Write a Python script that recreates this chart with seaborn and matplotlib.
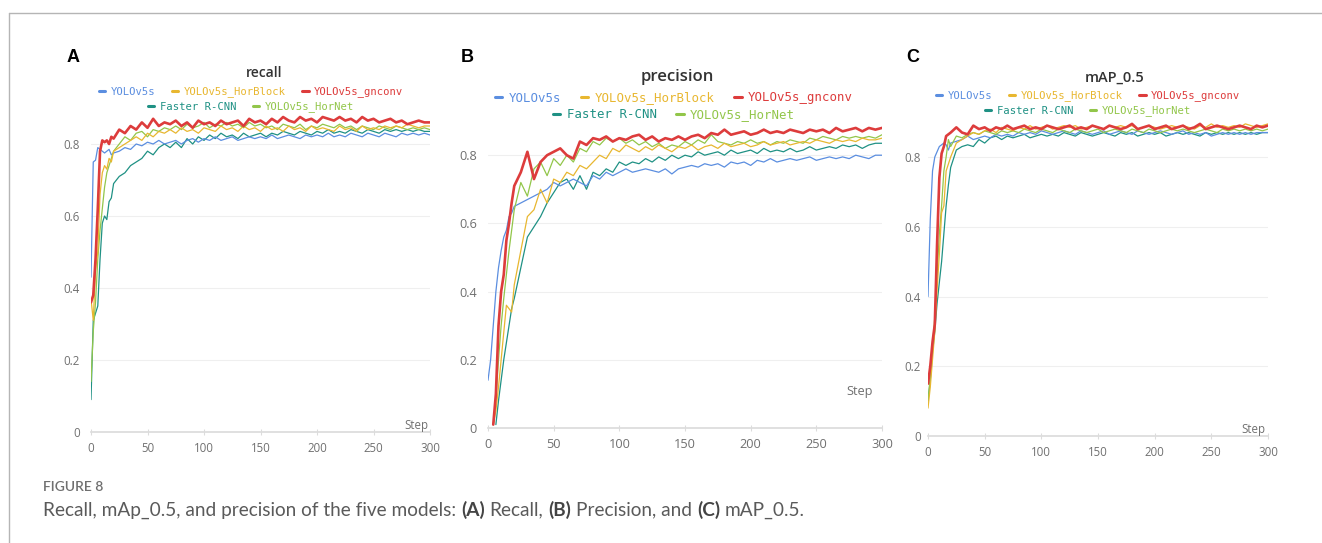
import numpy as np
import pandas as pd
import matplotlib
matplotlib.use('Agg')
import matplotlib.pyplot as plt
import seaborn as sns
from matplotlib.lines import Line2D
from matplotlib.ticker import FuncFormatter

sns.set_theme(style='white')
plt.rcParams['font.family'] = ['Open Sans', 'DejaVu Sans']

# training steps (x values), denser at the start
steps = [0, 2, 4, 6, 8, 10, 12, 14, 16, 18, 20] + list(range(25, 301, 5))

models = ['YOLOv5s', 'YOLOv5s_HorBlock', 'YOLOv5s_gnconv', 'Faster R-CNN', 'YOLOv5s_HorNet']
colors = {'YOLOv5s': '#5b8ee0', 'YOLOv5s_HorBlock': '#e8b730', 'YOLOv5s_gnconv': '#dd3c3c',
          'Faster R-CNN': '#1f9184', 'YOLOv5s_HorNet': '#92c64a'}
nan = np.nan

# ---- (A) recall
recall_yolov5s = [0.43, 0.75, 0.755, 0.79, 0.785, 0.78, 0.775, 0.78, 0.785, 0.77, 0.775,
                  0.78, 0.79, 0.785, 0.80, 0.795, 0.805, 0.80, 0.81, 0.80, 0.805,
                  0.81, 0.80, 0.81, 0.815, 0.805, 0.815, 0.81, 0.82, 0.81, 0.815,
                  0.82, 0.81, 0.815, 0.82, 0.815, 0.82, 0.815, 0.825, 0.815, 0.82,
                  0.825, 0.82, 0.815, 0.825, 0.82, 0.825, 0.82, 0.83, 0.82, 0.825,
                  0.82, 0.83, 0.825, 0.82, 0.83, 0.825, 0.82, 0.83, 0.825, 0.82,
                  0.83, 0.825, 0.83, 0.825, 0.83, 0.825]
recall_horblock = [0.37, 0.31, 0.45, 0.50, 0.66, 0.72, 0.74, 0.73, 0.76, 0.75, 0.78,
                   0.79, 0.80, 0.81, 0.82, 0.81, 0.83, 0.82, 0.835, 0.83, 0.84,
                   0.83, 0.845, 0.835, 0.84, 0.83, 0.845, 0.84, 0.835, 0.85, 0.84,
                   0.845, 0.835, 0.85, 0.84, 0.845, 0.835, 0.85, 0.84, 0.845, 0.835,
                   0.85, 0.84, 0.845, 0.835, 0.85, 0.84, 0.845, 0.84, 0.835, 0.85,
                   0.84, 0.845, 0.835, 0.85, 0.84, 0.845, 0.84, 0.85, 0.845, 0.85,
                   0.845, 0.855, 0.85, 0.845, 0.85, 0.85]
recall_gnconv = [0.36, 0.38, 0.48, 0.62, 0.78, 0.81, 0.805, 0.81, 0.80, 0.82, 0.815,
                 0.84, 0.83, 0.85, 0.84, 0.86, 0.845, 0.87, 0.85, 0.86, 0.855,
                 0.865, 0.85, 0.86, 0.845, 0.865, 0.855, 0.86, 0.85, 0.865, 0.855,
                 0.86, 0.865, 0.85, 0.87, 0.86, 0.865, 0.855, 0.87, 0.86, 0.875,
                 0.865, 0.86, 0.875, 0.865, 0.87, 0.86, 0.875, 0.87, 0.865, 0.875,
                 0.865, 0.87, 0.86, 0.875, 0.865, 0.87, 0.86, 0.865, 0.87, 0.86,
                 0.865, 0.855, 0.86, 0.865, 0.86, 0.86]
recall_frcnn = [0.09, 0.31, 0.33, 0.35, 0.48, 0.58, 0.60, 0.59, 0.64, 0.65, 0.69,
                0.71, 0.72, 0.74, 0.75, 0.76, 0.78, 0.77, 0.79, 0.80, 0.79,
                0.805, 0.79, 0.815, 0.80, 0.82, 0.81, 0.825, 0.815, 0.83, 0.82,
                0.825, 0.815, 0.83, 0.82, 0.825, 0.83, 0.82, 0.83, 0.825, 0.835,
                0.83, 0.825, 0.835, 0.83, 0.825, 0.835, 0.83, 0.84, 0.83, 0.835,
                0.83, 0.84, 0.835, 0.83, 0.84, 0.835, 0.83, 0.84, 0.835, 0.84,
                0.835, 0.84, 0.835, 0.84, 0.835, 0.835]
recall_hornet = [0.14, 0.28, 0.36, 0.48, 0.56, 0.62, 0.68, 0.72, 0.74, 0.76, 0.78,
                 0.80, 0.82, 0.81, 0.83, 0.835, 0.82, 0.84, 0.835, 0.845, 0.84,
                 0.85, 0.84, 0.855, 0.845, 0.85, 0.86, 0.845, 0.855, 0.85, 0.86,
                 0.85, 0.855, 0.845, 0.86, 0.85, 0.855, 0.845, 0.85, 0.84, 0.855,
                 0.85, 0.845, 0.855, 0.84, 0.85, 0.845, 0.855, 0.85, 0.845, 0.855,
                 0.845, 0.85, 0.84, 0.85, 0.845, 0.84, 0.85, 0.845, 0.84, 0.85,
                 0.845, 0.84, 0.845, 0.84, 0.845, 0.84]

# ---- (B) precision
precision_yolov5s = [0.14, 0.20, 0.30, 0.40, 0.47, 0.52, 0.56, 0.58, 0.62, 0.63, 0.65,
                     0.66, 0.67, 0.68, 0.69, 0.70, 0.72, 0.71, 0.72, 0.73, 0.72,
                     0.71, 0.74, 0.73, 0.75, 0.74, 0.75, 0.76, 0.75, 0.755, 0.76,
                     0.755, 0.75, 0.76, 0.745, 0.76, 0.765, 0.77, 0.765, 0.775, 0.77,
                     0.775, 0.765, 0.78, 0.775, 0.78, 0.77, 0.785, 0.78, 0.79, 0.78,
                     0.785, 0.79, 0.785, 0.79, 0.795, 0.785, 0.79, 0.795, 0.79, 0.795,
                     0.79, 0.80, 0.795, 0.79, 0.80, 0.80]
precision_horblock = [nan, nan, 0.01, 0.05, 0.12, 0.20, 0.28, 0.36, 0.35, 0.34, 0.42,
                      0.52, 0.62, 0.64, 0.70, 0.66, 0.73, 0.72, 0.75, 0.74, 0.77,
                      0.76, 0.78, 0.80, 0.79, 0.82, 0.81, 0.83, 0.82, 0.81, 0.825,
                      0.815, 0.83, 0.82, 0.81, 0.825, 0.82, 0.83, 0.815, 0.825, 0.83,
                      0.82, 0.835, 0.825, 0.83, 0.835, 0.825, 0.83, 0.84, 0.83, 0.835,
                      0.84, 0.83, 0.835, 0.84, 0.835, 0.845, 0.84, 0.835, 0.845, 0.84,
                      0.845, 0.84, 0.85, 0.845, 0.845, 0.85]
precision_gnconv = [nan, nan, 0.01, 0.10, 0.30, 0.40, 0.45, 0.55, 0.60, 0.66, 0.71,
                    0.75, 0.81, 0.73, 0.78, 0.80, 0.81, 0.82, 0.80, 0.79, 0.84,
                    0.83, 0.85, 0.845, 0.855, 0.84, 0.85, 0.845, 0.855, 0.86, 0.845,
                    0.855, 0.84, 0.85, 0.845, 0.855, 0.845, 0.855, 0.86, 0.85, 0.865,
                    0.86, 0.875, 0.86, 0.865, 0.87, 0.86, 0.865, 0.875, 0.865, 0.87,
                    0.865, 0.875, 0.87, 0.865, 0.875, 0.87, 0.875, 0.865, 0.88, 0.87,
                    0.875, 0.88, 0.87, 0.88, 0.875, 0.88]
precision_frcnn = [nan, nan, nan, 0.01, 0.08, 0.14, 0.20, 0.25, 0.30, 0.35, 0.38,
                   0.47, 0.56, 0.59, 0.62, 0.66, 0.69, 0.72, 0.73, 0.70, 0.74,
                   0.70, 0.75, 0.74, 0.76, 0.75, 0.78, 0.77, 0.78, 0.775, 0.79,
                   0.78, 0.795, 0.785, 0.80, 0.79, 0.80, 0.795, 0.81, 0.80, 0.805,
                   0.81, 0.80, 0.815, 0.805, 0.81, 0.815, 0.805, 0.82, 0.81, 0.815,
                   0.81, 0.82, 0.81, 0.815, 0.825, 0.815, 0.82, 0.825, 0.82, 0.83,
                   0.825, 0.83, 0.82, 0.83, 0.835, 0.835]
precision_hornet = [nan, nan, 0.01, 0.08, 0.20, 0.30, 0.38, 0.45, 0.52, 0.58, 0.64,
                    0.72, 0.68, 0.76, 0.78, 0.74, 0.79, 0.77, 0.80, 0.78, 0.82,
                    0.81, 0.84, 0.83, 0.85, 0.84, 0.85, 0.835, 0.845, 0.83, 0.84,
                    0.825, 0.835, 0.82, 0.83, 0.825, 0.84, 0.83, 0.845, 0.835, 0.86,
                    0.84, 0.835, 0.83, 0.84, 0.835, 0.845, 0.835, 0.84, 0.83, 0.84,
                    0.835, 0.845, 0.84, 0.835, 0.85, 0.845, 0.855, 0.85, 0.845, 0.855,
                    0.85, 0.855, 0.85, 0.855, 0.85, 0.86]

# ---- (C) mAP_0.5
map_yolov5s = [0.40, 0.62, 0.76, 0.80, 0.815, 0.83, 0.835, 0.84, 0.835, 0.82, 0.84,
               0.845, 0.85, 0.86, 0.85, 0.855, 0.86, 0.855, 0.865, 0.86, 0.865,
               0.86, 0.87, 0.865, 0.87, 0.865, 0.875, 0.87, 0.865, 0.87, 0.875,
               0.87, 0.865, 0.875, 0.87, 0.865, 0.87, 0.875, 0.865, 0.87, 0.875,
               0.87, 0.865, 0.875, 0.87, 0.865, 0.87, 0.875, 0.87, 0.865, 0.87,
               0.875, 0.865, 0.87, 0.865, 0.87, 0.86, 0.865, 0.87, 0.865, 0.87,
               0.865, 0.87, 0.865, 0.87, 0.87, 0.87]
map_horblock = [0.08, 0.14, 0.22, 0.30, 0.42, 0.52, 0.64, 0.66, 0.76, 0.78, 0.80,
                0.84, 0.85, 0.86, 0.87, 0.865, 0.875, 0.88, 0.87, 0.885, 0.88,
                0.875, 0.885, 0.88, 0.89, 0.88, 0.885, 0.89, 0.88, 0.885, 0.89,
                0.885, 0.89, 0.88, 0.885, 0.89, 0.885, 0.88, 0.89, 0.885, 0.89,
                0.885, 0.89, 0.88, 0.885, 0.89, 0.885, 0.88, 0.885, 0.89, 0.885,
                0.89, 0.885, 0.88, 0.89, 0.885, 0.895, 0.885, 0.89, 0.885, 0.89,
                0.885, 0.895, 0.89, 0.885, 0.89, 0.895]
map_gnconv = [0.15, 0.20, 0.27, 0.32, 0.55, 0.74, 0.81, 0.83, 0.86, 0.865, 0.87,
              0.885, 0.87, 0.865, 0.89, 0.88, 0.885, 0.875, 0.885, 0.88, 0.89,
              0.88, 0.885, 0.89, 0.88, 0.885, 0.88, 0.89, 0.885, 0.88, 0.885,
              0.89, 0.88, 0.885, 0.88, 0.89, 0.885, 0.88, 0.89, 0.885, 0.88,
              0.885, 0.895, 0.88, 0.885, 0.89, 0.88, 0.885, 0.89, 0.88, 0.885,
              0.89, 0.88, 0.885, 0.895, 0.88, 0.885, 0.89, 0.885, 0.88, 0.885,
              0.89, 0.885, 0.88, 0.89, 0.885, 0.89]
map_frcnn = [0.10, 0.16, 0.24, 0.30, 0.38, 0.44, 0.50, 0.58, 0.66, 0.72, 0.77,
             0.82, 0.83, 0.835, 0.83, 0.85, 0.84, 0.855, 0.86, 0.85, 0.86,
             0.855, 0.86, 0.865, 0.855, 0.86, 0.865, 0.86, 0.865, 0.86, 0.87,
             0.865, 0.86, 0.87, 0.865, 0.86, 0.865, 0.87, 0.865, 0.86, 0.87,
             0.865, 0.87, 0.86, 0.865, 0.87, 0.865, 0.87, 0.86, 0.865, 0.87,
             0.865, 0.87, 0.865, 0.86, 0.87, 0.865, 0.87, 0.865, 0.87, 0.865,
             0.87, 0.865, 0.87, 0.865, 0.87, 0.87]
map_hornet = [0.10, 0.17, 0.26, 0.34, 0.46, 0.58, 0.66, 0.76, 0.80, 0.85, 0.83,
              0.86, 0.855, 0.865, 0.87, 0.865, 0.875, 0.87, 0.865, 0.875, 0.87,
              0.875, 0.87, 0.88, 0.875, 0.87, 0.88, 0.875, 0.87, 0.88, 0.875,
              0.87, 0.88, 0.875, 0.87, 0.875, 0.88, 0.87, 0.875, 0.88, 0.875,
              0.87, 0.88, 0.875, 0.87, 0.88, 0.875, 0.87, 0.875, 0.88, 0.875,
              0.88, 0.875, 0.87, 0.875, 0.88, 0.875, 0.87, 0.88, 0.875, 0.88,
              0.875, 0.88, 0.875, 0.88, 0.875, 0.88]

recall = dict(zip(models, [recall_yolov5s, recall_horblock, recall_gnconv, recall_frcnn, recall_hornet]))
precision = dict(zip(models, [precision_yolov5s, precision_horblock, precision_gnconv, precision_frcnn, precision_hornet]))
map05 = dict(zip(models, [map_yolov5s, map_horblock, map_gnconv, map_frcnn, map_hornet]))

W, H = 1322, 543
fig = plt.figure(figsize=(W / 100, H / 100), dpi=100)

def fx(px):
    return px / W

def fy(py):
    return 1 - py / H

draw_order = ['Faster R-CNN', 'YOLOv5s', 'YOLOv5s_HorNet', 'YOLOv5s_HorBlock', 'YOLOv5s_gnconv']

# left, right, y of zero, px per unit, title..., legend..., step label, panel letter
panels = [
    dict(data=recall, x0=91, x1=430, y0=432, k=360, title='recall', tx=264, ty=73, tsize=10,
         cx=251, rows=(92, 107), lsize=7.6, step=(416, 425), letter='A', lx=73, ly=58, fs=8.3, ypad=8),
    dict(data=precision, x0=488, x1=882, y0=428, k=341, title='precision', tx=677, ty=77, tsize=12,
         cx=674, rows=(98, 115), lsize=8.9, step=(860, 392), letter='B', lx=467, ly=58, fs=9.2, ypad=8),
    dict(data=map05, x0=928, x1=1268, y0=436, k=348.75, title='mAP_0.5', tx=1115, ty=78, tsize=10.5,
         cx=1088, rows=(96, 111), lsize=7.6, step=(1253, 429), letter='C', lx=913, ly=58, fs=8.3, ypad=5),
]

for p in panels:
    top = p['y0'] - 0.9 * p['k']
    ax = fig.add_axes([fx(p['x0']), fy(p['y0']), (p['x1'] - p['x0']) / W, (p['y0'] - top) / H])
    for m in draw_order:
        sns.lineplot(x=steps, y=p['data'][m], ax=ax, color=colors[m],
                     lw=1.9 if m == 'YOLOv5s_gnconv' else 0.9, legend=False)
    ax.set_xlim(0, 300)
    ax.set_ylim(0, 0.9)
    ax.set_xticks(range(0, 301, 50))
    ax.set_yticks([0, 0.2, 0.4, 0.6, 0.8])
    ax.yaxis.set_major_formatter(FuncFormatter(lambda v, _: '0' if v == 0 else f'{v:.1f}'))
    ax.set_xlabel('')
    ax.set_ylabel('')
    for s in ['top', 'right', 'left']:
        ax.spines[s].set_visible(False)
    ax.spines['bottom'].set_color('#dcdcdc')
    ax.grid(axis='y', color='#efefef', lw=0.8)
    ax.set_axisbelow(True)
    ax.tick_params(axis='x', bottom=True, direction='inout', length=5, width=0.8, color='#dcdcdc',
                   labelcolor='#707070', labelsize=p['fs'], pad=5)
    ax.tick_params(axis='y', length=0, labelcolor='#707070', labelsize=p['fs'], pad=p['ypad'])

    fig.text(fx(p['tx']), fy(p['ty']), p['title'], ha='center', va='center',
             fontsize=p['tsize'], fontweight='semibold', color='#333333')
    fig.text(fx(p['step'][0]), fy(p['step'][1]), 'Step', ha='center', va='center',
             fontsize=p['fs'], color='#707070')
    fig.text(fx(p['lx']), fy(p['ly']), p['letter'], ha='center', va='center',
             fontsize=13, fontweight='bold', family='Liberation Sans', color='black')

    for row, ry in zip([models[:3], models[3:]], p['rows']):
        handles = [Line2D([], [], color=colors[m], lw=2.2) for m in row]
        fig.legend(handles, row, loc='center', bbox_to_anchor=(fx(p['cx']), fy(ry)),
                   ncol=len(row), frameon=False, labelcolor='linecolor',
                   prop={'family': 'DejaVu Sans Mono', 'size': p['lsize']},
                   handlelength=0.6, handletextpad=0.5, columnspacing=1.6,
                   borderpad=0, borderaxespad=0)

# page frame
fig.add_artist(Line2D([fx(9), 1], [fy(13), fy(13)], transform=fig.transFigure, color='#b5b5b5', lw=1))
fig.add_artist(Line2D([fx(9), fx(9)], [0, fy(13)], transform=fig.transFigure, color='#b5b5b5', lw=1))

# caption
fig.text(fx(43), fy(487), 'FIGURE 8', ha='left', va='center', fontsize=10, fontweight='semibold',
         color='#6f6f6f', family='Lato')
caption = [('Recall, mAp_0.5, and precision of the five models:', 'normal'), ('(A)', 'bold'),
           ('Recall,', 'normal'), ('(B)', 'bold'), ('Precision, and', 'normal'), ('(C)', 'bold'),
           ('mAP_0.5.', 'normal')]
cap_size = 13.7
renderer = fig.canvas.get_renderer()
probe1 = fig.text(0, 0, 'a a', fontsize=cap_size, family='Lato')
probe2 = fig.text(0, 0, 'aa', fontsize=cap_size, family='Lato')
space = probe1.get_window_extent(renderer).width - probe2.get_window_extent(renderer).width
probe1.remove()
probe2.remove()
xpos = 43
for txt, wgt in caption:
    t = fig.text(fx(xpos), fy(510), txt, ha='left', va='center', fontsize=cap_size,
                 fontweight=wgt, family='Lato', color='#444444' if wgt == 'bold' else '#5a5a5a')
    xpos += t.get_window_extent(renderer).width + space

fig.savefig('out.png', dpi=100)
